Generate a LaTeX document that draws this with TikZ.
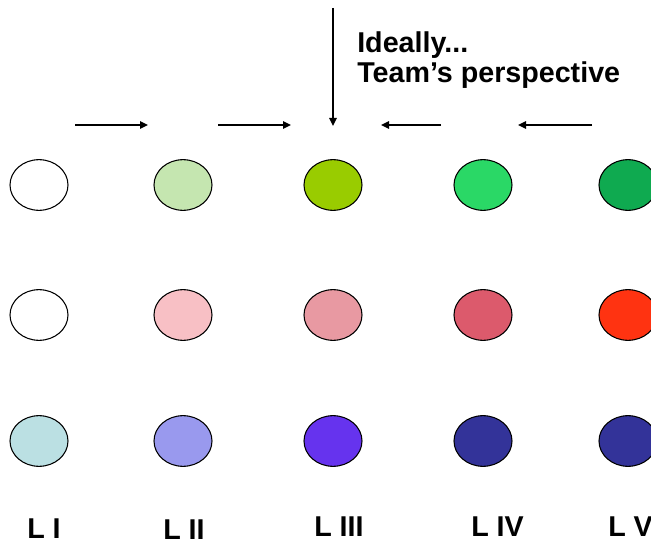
\documentclass[tikz,border=0pt]{standalone}
\usepackage{fontspec}
\setmainfont{Liberation Sans}
\usetikzlibrary{arrows.meta,shapes.geometric}
\definecolor{gA}{HTML}{C5E6B0}
\definecolor{gB}{HTML}{99CC00}
\definecolor{gC}{HTML}{2AD866}
\definecolor{gD}{HTML}{0FAA50}
\definecolor{rA}{HTML}{F8C0C5}
\definecolor{rB}{HTML}{E899A2}
\definecolor{rC}{HTML}{DC5A6C}
\definecolor{rD}{HTML}{FF3311}
\definecolor{bA}{HTML}{BBE0E3}
\definecolor{bB}{HTML}{9999EE}
\definecolor{bC}{HTML}{6633EE}
\definecolor{bD}{HTML}{333399}
\tikzset{
  dot/.style={ellipse, draw=black, line width=0.8pt, minimum width=43.5pt, minimum height=38pt, inner sep=0pt},
  arr/.style={line width=1.1pt, -{Triangle[length=6pt,width=5.5pt]}},
  lbl/.style={inner sep=0pt, anchor=base west, font=\bfseries\fontsize{21.5}{22}\selectfont},
}
\begin{document}
\begin{tikzpicture}[x=0.75pt,y=-0.75pt]
\useasboundingbox (0,0) rectangle (651,545);
\clip (0,0) rectangle (651,545);
% row 1
\node[dot, fill=white] (a1) at (39,185) {};
\node[dot, fill=gA] (a2) at (183,185) {};
\node[dot, fill=gB] (a3) at (333,185) {};
\node[dot, fill=gC] (a4) at (483,185) {};
\node[dot, fill=gD] (a5) at (628,185) {};
% row 2
\node[dot, fill=white] (b1) at (39,315) {};
\node[dot, fill=rA] (b2) at (183,315) {};
\node[dot, fill=rB] (b3) at (333,315) {};
\node[dot, fill=rC] (b4) at (483,315) {};
\node[dot, fill=rD] (b5) at (628,315) {};
% row 3
\node[dot, fill=bA] (c1) at (39,441) {};
\node[dot, fill=bB] (c2) at (183,441) {};
\node[dot, fill=bC] (c3) at (333,441) {};
\node[dot, fill=bD] (c4) at (483,441) {};
\node[dot, fill=bD] (c5) at (628,441) {};
% labels
\node[lbl] (l1) at (27,539) {L I};
\node[lbl] (l2) at (163,540) {L II};
\node[lbl] (l3) at (314,537) {L III};
\node[lbl] (l4) at (471,537) {L IV};
\node[lbl] (l5) at (608,537) {L V};
% text
\node[lbl] (t1) at (357,53) {Ideally...};
\node[lbl] (t2) at (357,83) {Team’s perspective};
% arrows
\coordinate (p1s) at (75,125);  \coordinate (p1e) at (148,125);
\coordinate (p2s) at (218,125); \coordinate (p2e) at (291,125);
\coordinate (p3s) at (441,125); \coordinate (p3e) at (381,125);
\coordinate (p4s) at (592,125); \coordinate (p4e) at (518,125);
\coordinate (vs) at (333,8);    \coordinate (ve) at (333,126);
\draw[arr] (p1s) -- (p1e);
\draw[arr] (p2s) -- (p2e);
\draw[arr] (p3s) -- (p3e);
\draw[arr] (p4s) -- (p4e);
\draw[arr] (vs) -- (ve);
\end{tikzpicture}
\end{document}
